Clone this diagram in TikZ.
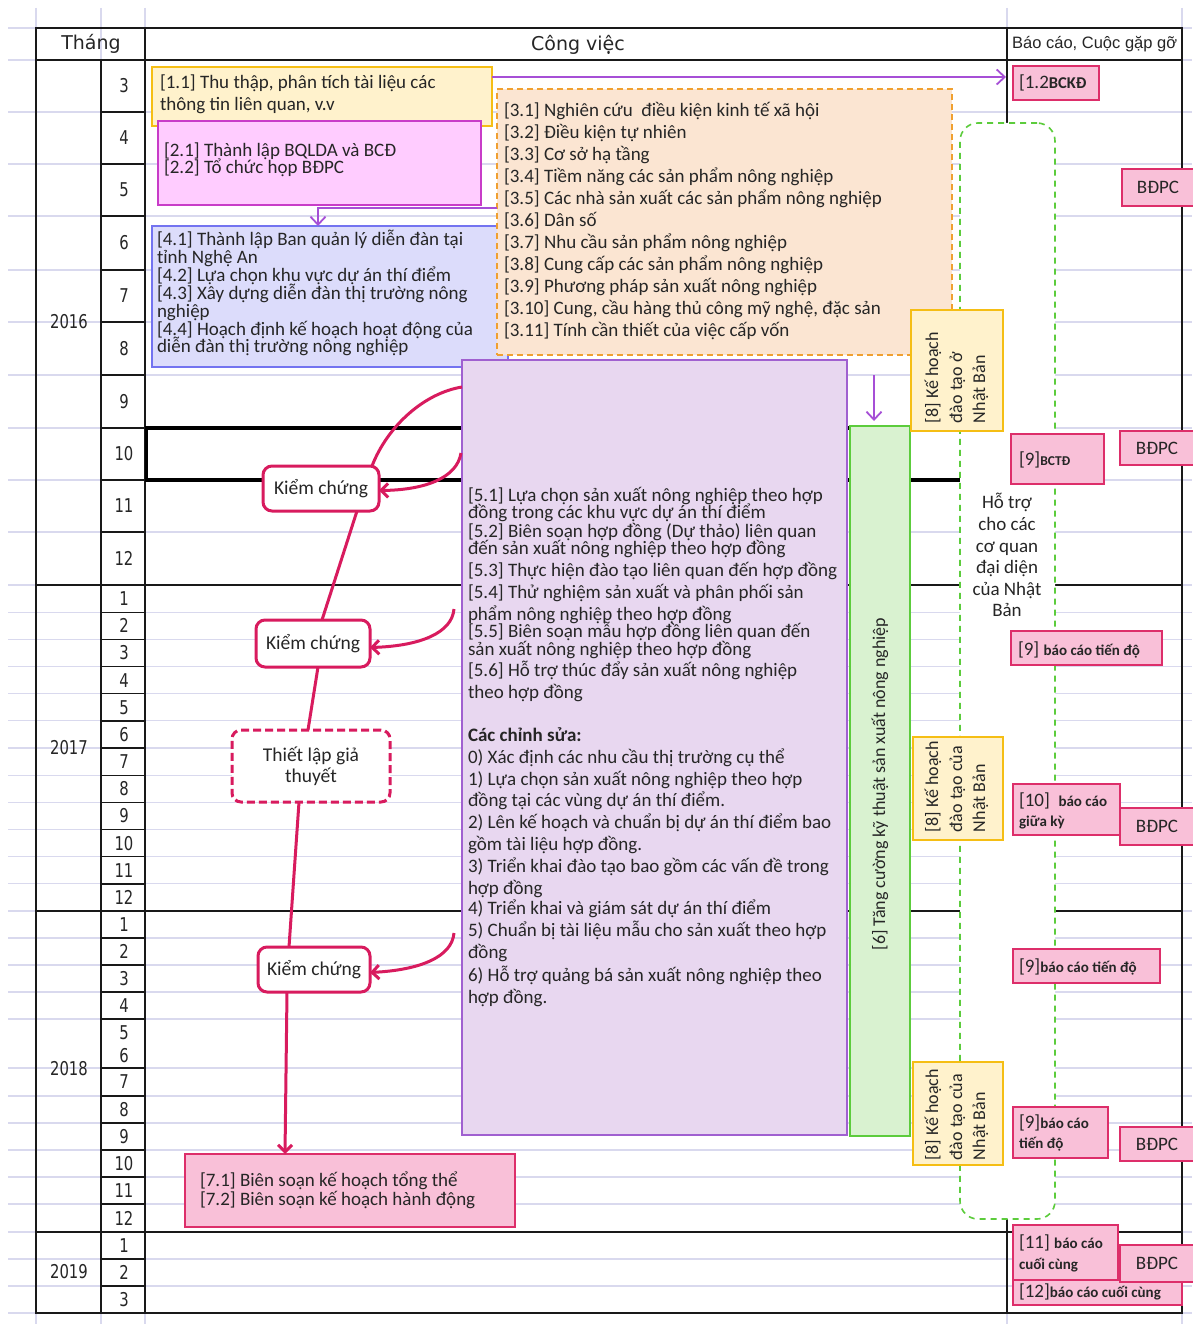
\documentclass[tikz,border=0pt]{standalone}
\usepackage{fontspec}
\setmainfont{Carlito}
\newfontfamily\hdrfont{DejaVu Sans}
\newfontfamily\numfont[FakeStretch=0.78]{DejaVu Sans}
\newfontfamily\arialfont{Liberation Sans}
\usetikzlibrary{arrows.meta,calc}

\definecolor{gridc}{HTML}{D9D9EE}
\definecolor{ylwF}{HTML}{FFF2CC}\definecolor{ylwD}{HTML}{F5BE14}
\definecolor{mgF}{HTML}{FFCCFF}\definecolor{mgD}{HTML}{C83CC8}
\definecolor{blF}{HTML}{DCDCFB}\definecolor{blD}{HTML}{7373F0}
\definecolor{orF}{HTML}{FBE5D2}\definecolor{orD}{HTML}{F0A030}
\definecolor{puF}{HTML}{E8D7F0}\definecolor{puD}{HTML}{A060D0}
\definecolor{grF}{HTML}{D9F2D0}\definecolor{grD}{HTML}{5CCC3C}
\definecolor{pkF}{HTML}{F9C0D8}\definecolor{pkD}{HTML}{DD2E6A}
\definecolor{crim}{HTML}{D81B5E}
\definecolor{parr}{HTML}{A64FD6}
\definecolor{txtc}{HTML}{262626}

\newcommand\drawbox[6]{\node[#2, anchor=north west, minimum width={#5pt-#3pt}, minimum height={#6pt-#4pt}] (#1) at (#3,#4) {};}
\newcommand\txtlines[4]{\foreach \yy/\ttext [count=\i] in {#4} {\node[tx,#3,anchor=base west] (#1-\i) at (#2,\yy) {\ttext};}}
\newcommand\smallrep{\fontsize{15}{17}\selectfont\bfseries}

\begin{document}
\begin{tikzpicture}[x=1pt,y=-1pt,
  gridl/.style={draw=gridc, line width=1.2pt},
  tbl/.style={draw=black!90, line width=1.4pt},
  tx/.style={inner sep=0pt, outer sep=0pt, text=txtc, font=\fontsize{19}{22}\selectfont},
  numf/.style={inner sep=0pt, outer sep=0pt, text=txtc, font=\numfont\fontsize{19}{22}\selectfont},
  boxbase/.style={rectangle, inner sep=0pt, outer sep=0pt, line width=1.6pt},
  ylbox/.style={boxbase, fill=ylwF, draw=ylwD},
  mgbox/.style={boxbase, fill=mgF, draw=mgD},
  blbox/.style={boxbase, fill=blF, draw=blD},
  orbox/.style={boxbase, fill=orF, draw=orD, dash pattern=on 6pt off 4pt},
  pubox/.style={boxbase, fill=puF, draw=puD},
  grbox/.style={boxbase, fill=grF, draw=grD},
  pkbox/.style={boxbase, fill=pkF, draw=pkD, line width=2pt},
  hsbox/.style={boxbase, fill=white, draw=grD, dash pattern=on 6pt off 5pt, rounded corners=18pt},
  kbox/.style={rectangle, rounded corners=9pt, fill=white, draw=crim, line width=3pt, inner sep=0pt, outer sep=0pt, text=txtc, font=\fontsize{19.5}{21}\selectfont, align=center},
  spine/.style={draw=crim, line width=3pt},
  carrow/.style={spine, -{Straight Barb[length=7pt,width=14pt]}},
  parrow/.style={draw=parr, line width=1.8pt, -{Straight Barb[length=8pt,width=15pt]}},
]
\useasboundingbox (0,0) rectangle (1192,1324);
\fill[white] (0,0) rectangle (1192,1324);

% faint spreadsheet grid
\foreach \yy in {28,60,112,164,216,270,322,375,428,480,532,585,612.2,639.3,666.5,693.7,720.8,748,775.2,802.3,829.5,856.7,883.8,911,938,965,992,1019,1068,1096,1123,1150,1177,1204,1232,1259,1286,1313}
  \draw[gridl] (8,\yy) -- (1192,\yy);
\foreach \xx in {36,101,145,1007,1182}
  \draw[gridl] (\xx,8) -- (\xx,1324);

% table lines
\draw[tbl] (36,28) rectangle (1182,1313);
\draw[tbl] (36,60) -- (1182,60);
\draw[tbl] (101,60) -- (101,1313);
\draw[tbl] (145,28) -- (145,1313);
\draw[tbl] (1007,28) -- (1007,1313);
\foreach \yy in {585,911,1232} \draw[tbl] (36,\yy) -- (1182,\yy);
\foreach \yy in {112,164,216,270,322,375,428,480,532,612.2,639.3,666.5,693.7,720.8,748,775.2,802.3,829.5,856.7,883.8,938,965,992,1019,1068,1096,1123,1150,1177,1204,1259,1286}
  \draw[tbl] (101,\yy) -- (145,\yy);
% selected row
\draw[line width=3.2pt, black] (145,428) -- (960,428);
\draw[line width=3.2pt, black] (145,480) -- (960,480);
\draw[line width=3.2pt, black] (146.5,428) -- (146.5,480);

% headers
\node[inner sep=0pt, text=txtc, font=\hdrfont\fontsize{19}{22}\selectfont] (hThang) at (91,44) {Tháng};
\node[inner sep=0pt, text=txtc, font=\hdrfont\fontsize{19}{22}\selectfont] (hCong) at (578,45) {Công việc};
\node[inner sep=0pt, text=txtc, anchor=west, font=\arialfont\fontsize{16.5}{19}\selectfont] (hBao) at (1012,44) {Báo cáo, Cuộc gặp gỡ};

% years and months
\node[numf] (y16) at (69,322) {2016};
\node[numf] (y17) at (69,748) {2017};
\node[numf] (y18) at (69,1069) {2018};
\node[numf] (y19) at (69,1272) {2019};
\foreach \mm/\yy in {3/86,4/138,5/190,6/243,7/296,8/348.5,9/401.5,10/454,11/506,12/558.5}
  \node[numf] (m16-\mm) at (124,\yy) {\mm};
\foreach \mm/\yy in {1/598.6,2/625.8,3/652.9,4/680.1,5/707.3,6/734.4,7/761.6,8/788.8,9/815.9,10/843.1,11/870.3,12/897.4}
  \node[numf] (m17-\mm) at (124,\yy) {\mm};
\foreach \mm/\yy in {1/924.5,2/951.5,3/978.5,4/1005.5,5/1033,6/1056,7/1082,8/1109.5,9/1136.5,10/1163.5,11/1190.5,12/1218}
  \node[numf] (m18-\mm) at (124,\yy) {\mm};
\foreach \mm/\yy in {1/1245.5,2/1272.5,3/1299.5}
  \node[numf] (m19-\mm) at (124,\yy) {\mm};

% boxes
\drawbox{p11}{ylbox}{152}{67}{492}{126}
\drawbox{p21}{mgbox}{158}{121}{481}{205}
\drawbox{p4}{blbox}{152}{226}{508}{367}
\drawbox{p3}{orbox}{497}{89}{952}{355}
\drawbox{p5}{pubox}{462}{360}{847}{1135}
\drawbox{p6}{grbox}{850}{426}{910}{1136}
\drawbox{hs}{hsbox}{960}{123}{1055}{1219}
\drawbox{p8a}{ylbox}{911}{310}{1003}{431}
\drawbox{p8b}{ylbox}{913}{737}{1003}{840}
\drawbox{p8c}{ylbox}{913}{1062}{1003}{1165}
\drawbox{p7}{pkbox}{185}{1154}{515}{1227}

% report boxes
\drawbox{r12}{pkbox}{1013}{66}{1099}{100}
\drawbox{b1}{pkbox}{1122}{169}{1194}{206}
\drawbox{r9a}{pkbox}{1011}{434}{1104}{484}
\drawbox{b2}{pkbox}{1120}{431}{1194}{465}
\drawbox{r9b}{pkbox}{1011}{631}{1162}{665}
\drawbox{r10}{pkbox}{1013}{784}{1120}{835}
\drawbox{b3}{pkbox}{1120}{808}{1194}{845}
\drawbox{r9c}{pkbox}{1013}{949}{1160}{983}
\drawbox{r9d}{pkbox}{1013}{1107}{1108}{1158}
\drawbox{b4}{pkbox}{1120}{1127}{1194}{1161}
\drawbox{r12b}{pkbox}{1013}{1277}{1182}{1305}
\drawbox{r11}{pkbox}{1013}{1225}{1118}{1280}
\drawbox{b5}{pkbox}{1120}{1245}{1194}{1282}

% box texts
\txtlines{p11t}{160}{}{89/{[1.1] Thu thập, phân tích tài liệu các},111/{thông tin liên quan, v.v}}
\txtlines{p21t}{164}{}{157/{[2.1] Thành lập BQLDA và BCĐ},174/{[2.2] Tổ chức họp BĐPC}}
\txtlines{p4t}{157}{}{246/{[4.1] Thành lập Ban quản lý diễn đàn tại},263.8/{tỉnh Nghệ An},281.6/{[4.2] Lựa chọn khu vực dự án thí điểm},299.4/{[4.3] Xây dựng diễn đàn thị trường nông},317.2/{nghiệp},335/{[4.4] Hoạch định kế hoạch hoạt động của},352.8/{diễn đàn thị trường nông nghiệp}}
\txtlines{p3t}{504}{}{117/{[3.1] Nghiên cứu\ \ điều kiện kinh tế xã hội},138.9/{[3.2] Điều kiện tự nhiên},160.8/{[3.3] Cơ sở hạ tầng},182.7/{[3.4] Tiềm năng các sản phẩm nông nghiệp},204.6/{[3.5] Các nhà sản xuất các sản phẩm nông nghiệp},226.5/{[3.6] Dân số},248.4/{[3.7] Nhu cầu sản phẩm nông nghiệp},270.3/{[3.8] Cung cấp các sản phẩm nông nghiệp},292.2/{[3.9] Phương pháp sản xuất nông nghiệp},314.1/{[3.10] Cung, cầu hàng thủ công mỹ nghệ, đặc sản},336/{[3.11] Tính cần thiết của việc cấp vốn}}
\txtlines{p5t}{468}{}{501/{[5.1] Lựa chọn sản xuất nông nghiệp theo hợp},518/{đồng trong các khu vực dự án thí điểm},537/{[5.2] Biên soạn hợp đồng (Dự thảo) liên quan},554/{đến sản xuất nông nghiệp theo hợp đồng},576/{[5.3] Thực hiện đào tạo liên quan đến hợp đồng},598/{[5.4] Thử nghiệm sản xuất và phân phối sản},620/{phẩm nông nghiệp theo hợp đồng},637/{[5.5] Biên soạn mẫu hợp đồng liên quan đến},655/{sản xuất nông nghiệp theo hợp đồng},676/{[5.6] Hỗ trợ thúc đẩy sản xuất nông nghiệp},698/{theo hợp đồng}}
\txtlines{p5c}{468}{}{741/{\bfseries Các chỉnh sửa:},763/{0) Xác định các nhu cầu thị trường cụ thể},785/{1) Lựa chọn sản xuất nông nghiệp theo hợp},806/{đồng tại các vùng dự án thí điểm.},828/{2) Lên kế hoạch và chuẩn bị dự án thí điểm bao},850/{gồm tài liệu hợp đồng.},872/{3) Triển khai đào tạo bao gồm các vấn đề trong},894/{hợp đồng},914/{4) Triển khai và giám sát dự án thí điểm},936/{5) Chuẩn bị tài liệu mẫu cho sản xuất theo hợp},958/{đồng},981/{6) Hỗ trợ quảng bá sản xuất nông nghiệp theo},1003/{hợp đồng.}}
\txtlines{p7t}{200}{}{1186/{[7.1] Biên soạn kế hoạch tổng thể},1205/{[7.2] Biên soạn kế hoạch hành động}}

% rotated texts
\node[tx, font=\fontsize{18}{20}\selectfont, rotate=90] (p6t) at (880,784) {[6] Tăng cường kỹ thuật sản xuất nông nghiệp};
\foreach \xx/\ttext [count=\i] in {938/{[8] Kế hoạch},962/{đào tạo ở},985/{Nhật Bản}}
  \node[tx, font=\fontsize{18}{20}\selectfont, rotate=90, anchor=base west] (p8at-\i) at (\xx,423) {\ttext};
\foreach \xx/\ttext [count=\i] in {938/{[8] Kế hoạch},962/{đào tạo của},985/{Nhật Bản}}
  \node[tx, font=\fontsize{18}{20}\selectfont, rotate=90, anchor=base west] (p8bt-\i) at (\xx,832) {\ttext};
\foreach \xx/\ttext [count=\i] in {938/{[8] Kế hoạch},962/{đào tạo của},985/{Nhật Bản}}
  \node[tx, font=\fontsize{18}{20}\selectfont, rotate=90, anchor=base west] (p8ct-\i) at (\xx,1160) {\ttext};

% support text
\foreach \yy/\ttext [count=\i] in {508/{Hỗ trợ},530/{cho các},552/{cơ quan},573/{đại diện},595/{của Nhật},616/{Bản}}
  \node[tx, anchor=base] (hst-\i) at (1007,\yy) {\ttext};

% report texts
\node[tx, anchor=base west] (r12t) at (1019,89) {[1.2{\fontsize{16.5}{19}\selectfont\bfseries BCKĐ}};
\node[tx] (b1t) at (b1.center) {BĐPC};
\node[tx] (b2t) at (b2.center) {BĐPC};
\node[tx] (b3t) at (b3.center) {BĐPC};
\node[tx] (b4t) at (b4.center) {BĐPC};
\node[tx] (b5t) at (b5.center) {BĐPC};
\node[tx, anchor=base west] (r9at) at (1019,465) {[9]{\fontsize{13.5}{15}\selectfont\bfseries BCTĐ}};
\node[tx, anchor=base west] (r9bt) at (1018,655) {[9] {\smallrep báo cáo tiến độ}};
\txtlines{r10t}{1019}{}{806/{[10]\ \ {\smallrep báo cáo}},826/{{\smallrep giữa kỳ}}}
\node[tx, anchor=base west] (r9ct) at (1019,972) {[9]{\smallrep báo cáo tiến độ}};
\txtlines{r9dt}{1019}{}{1128/{[9]{\smallrep báo cáo}},1148/{{\smallrep tiến độ}}}
\txtlines{r11t}{1019}{}{1248/{[11] {\smallrep báo cáo}},1269/{{\smallrep cuối cùng}}}
\node[tx, anchor=base west] (r12bt) at (1019,1297) {[12]{\smallrep báo cáo cuối cùng}};

% purple connectors
\coordinate (y77) at (0,77);
\coordinate (y208) at (0,208);
\coordinate (a6s) at (874,375);
\draw[parrow, shorten >=7pt] (p11.east |- y77) -- (r12.west |- y77);
\draw[parrow] (p3.west |- y208) -| ([xshift=-12pt]p4.north);
\draw[parrow, shorten >=5pt] (a6s) -- (a6s |- p6.north);

% verification nodes
\node[kbox, anchor=north west, minimum width=116pt, minimum height=45pt] (k1) at (263,466) {Kiểm chứng};
\node[kbox, anchor=north west, minimum width=114pt, minimum height=47pt] (k2) at (256,620) {Kiểm chứng};
\node[kbox, dash pattern=on 8pt off 4pt, anchor=north west, minimum width=158pt, minimum height=72pt] (t1) at (232,730) {Thiết lập giả\\thuyết};
\node[kbox, anchor=north west, minimum width=112pt, minimum height=45pt] (k3) at (258,947) {Kiểm chứng};

% crimson connectors
\coordinate (c1s) at (462,387);
\coordinate (c2s) at (461,453);
\coordinate (c3s) at (454,609);
\coordinate (c4s) at (454,933);
\draw[spine] (c1s) .. controls (425,393) and (388,425) .. ([xshift=51pt]k1.north);
\draw[carrow] (c2s) .. controls (457,478) and (425,490) .. ([yshift=-2pt]k1.east);
\draw[spine] ([xshift=36pt]k1.south) -- ([xshift=9pt]k2.north);
\draw[carrow] (c3s) .. controls (452,633) and (420,646) .. ([yshift=-4pt]k2.east);
\draw[spine] ([xshift=5pt]k2.south) -- ([xshift=-3pt]t1.north);
\draw[spine] ([xshift=-12pt]t1.south) -- ([xshift=-25pt]k3.north);
\draw[carrow] (c4s) .. controls (452,957) and (420,970) .. ([yshift=-3pt]k3.east);
\draw[carrow] ([xshift=-27pt]k3.south) -- ([xshift=-65pt]p7.north);
\end{tikzpicture}
\end{document}
